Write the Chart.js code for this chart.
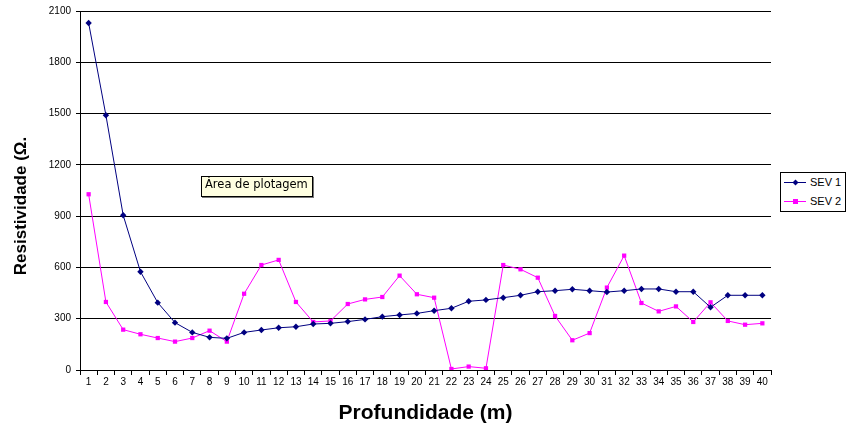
<!DOCTYPE html>
<html>
<head>
<meta charset="utf-8">
<script src="https://cdn.jsdelivr.net/npm/chart.js@4.4.0/dist/chart.umd.min.js"></script>
<style>
  html, body { margin: 0; padding: 0; background: #fff; }
  #wrap { position: relative; width: 848px; height: 434px; }
  #note {
    position: absolute; left: 201px; top: 176px; height: 19px; line-height: 19px;
    padding: 0 4px 0 3px; background: #ffffe1; border: 1px solid #000;
    box-shadow: 1px 1px 0 #777;
    font: 11.5px "DejaVu Sans", sans-serif; color: #000; white-space: nowrap;
  }
  #legend {
    position: absolute; left: 780px; top: 172px; width: 64px; height: 38px;
    border: 1px solid #000; background: #fff;
    font: 11px "Liberation Sans", Arial, sans-serif; color: #000;
  }
  .row { position: absolute; left: 0; height: 12px; width: 64px; }
  .row .ln { position: absolute; left: 3px; width: 22px; top: 6px; height: 1px; }
  .row .mk { position: absolute; width: 5px; height: 5px; left: 12px; top: 4px; }
  .row .tx { position: absolute; left: 29px; top: 0; line-height: 12px; }
</style>
</head>
<body>
<div id="wrap">
  <canvas id="c" width="848" height="434"></canvas>
  <div id="note">Área de plotagem</div>
  <div id="legend"></div>
</div>
<script>
// ── Data ──
const depths = Array.from({ length: 40 }, (_, i) => String(i + 1));
const sev1 = [2030, 1490, 905, 575, 394, 277, 220, 191, 185, 220,
              234, 247, 253, 269, 273, 283, 296, 312, 322, 331,
              347, 361, 402, 410, 423, 437, 458, 464, 472, 464,
              456, 464, 474, 474, 458, 458, 367, 437, 437, 437];
const sev2 = [1028, 398, 236, 209, 187, 166, 187, 230, 166, 446,
              614, 644, 398, 281, 287, 386, 413, 427, 552, 443,
              423, 6, 20, 10, 614, 589, 540, 316, 174, 216,
              482, 669, 392, 343, 372, 281, 396, 287, 265, 273];
const yTicks = [0, 300, 600, 900, 1200, 1500, 1800, 2100];

const SEV1_COLOR = '#000080';
const SEV2_COLOR = '#ff00ff';
const FONT = '"Liberation Sans", Arial, sans-serif';

// y title drawn by hand so it can sit where the original has it
const yTitle = {
  id: 'yTitle',
  afterDraw(chart) {
    const c = chart.ctx;
    c.save();
    c.translate(21, 206);
    c.rotate(-Math.PI / 2);
    c.font = 'bold 17px ' + FONT;
    c.fillStyle = '#000';
    c.textAlign = 'center';
    c.textBaseline = 'middle';
    c.fillText('Resistividade (Ω.', 0, 0);
    c.restore();
  }
};

new Chart(document.getElementById('c'), {
  type: 'line',
  data: {
    labels: depths,
    datasets: [
      {
        label: 'SEV 1', data: sev1,
        borderColor: SEV1_COLOR, backgroundColor: SEV1_COLOR,
        borderWidth: 1, pointStyle: 'rectRot', pointRadius: 3.2,
        pointBorderWidth: 0, tension: 0
      },
      {
        label: 'SEV 2', data: sev2,
        borderColor: SEV2_COLOR, backgroundColor: SEV2_COLOR,
        borderWidth: 1, pointStyle: 'rect', pointRadius: 3,
        pointBorderWidth: 0, tension: 0
      }
    ]
  },
  options: {
    responsive: false, animation: false,
    layout: { padding: { left: 0, right: 77, top: 11, bottom: 0 } },
    plugins: { legend: { display: false }, tooltip: { enabled: false } },
    scales: {
      x: {
        offset: true,
        afterFit: s => { s.height = 64; },
        grid: { offset: true, drawOnChartArea: false, drawTicks: true, tickLength: 5, color: '#000' },
        border: { display: true, color: '#000' },
        ticks: { color: '#000', font: { family: FONT, size: 10 }, maxRotation: 0, autoSkip: false, padding: 1 },
        title: {
          display: true, text: 'Profundidade (m)', color: '#000',
          font: { family: FONT, size: 21, weight: 'bold' },
          padding: { top: 0, bottom: 8 }
        }
      },
      y: {
        min: 0, max: 2100,
        afterFit: s => { s.width = 80; },
        afterBuildTicks: s => { s.ticks = yTicks.map(v => ({ value: v })); },
        grid: { color: '#000', lineWidth: 1, drawTicks: true, tickLength: 4 },
        border: { display: true, color: '#000' },
        ticks: { color: '#000', font: { family: FONT, size: 10 }, padding: 5, callback: v => String(v) }
      }
    }
  },
  plugins: [yTitle]
});

// legend box
const legend = document.getElementById('legend');
[['SEV 1', SEV1_COLOR, true], ['SEV 2', SEV2_COLOR, false]].forEach(([name, col, diamond], i) => {
  const row = document.createElement('div');
  row.className = 'row';
  row.style.top = (3 + i * 19) + 'px';
  row.innerHTML = `<div class="ln" style="background:${col}"></div>` +
    `<div class="mk" style="background:${col};${diamond ? 'transform:rotate(45deg) scale(0.85);' : ''}"></div>` +
    `<div class="tx">${name}</div>`;
  legend.appendChild(row);
});
</script>
</body>
</html>
